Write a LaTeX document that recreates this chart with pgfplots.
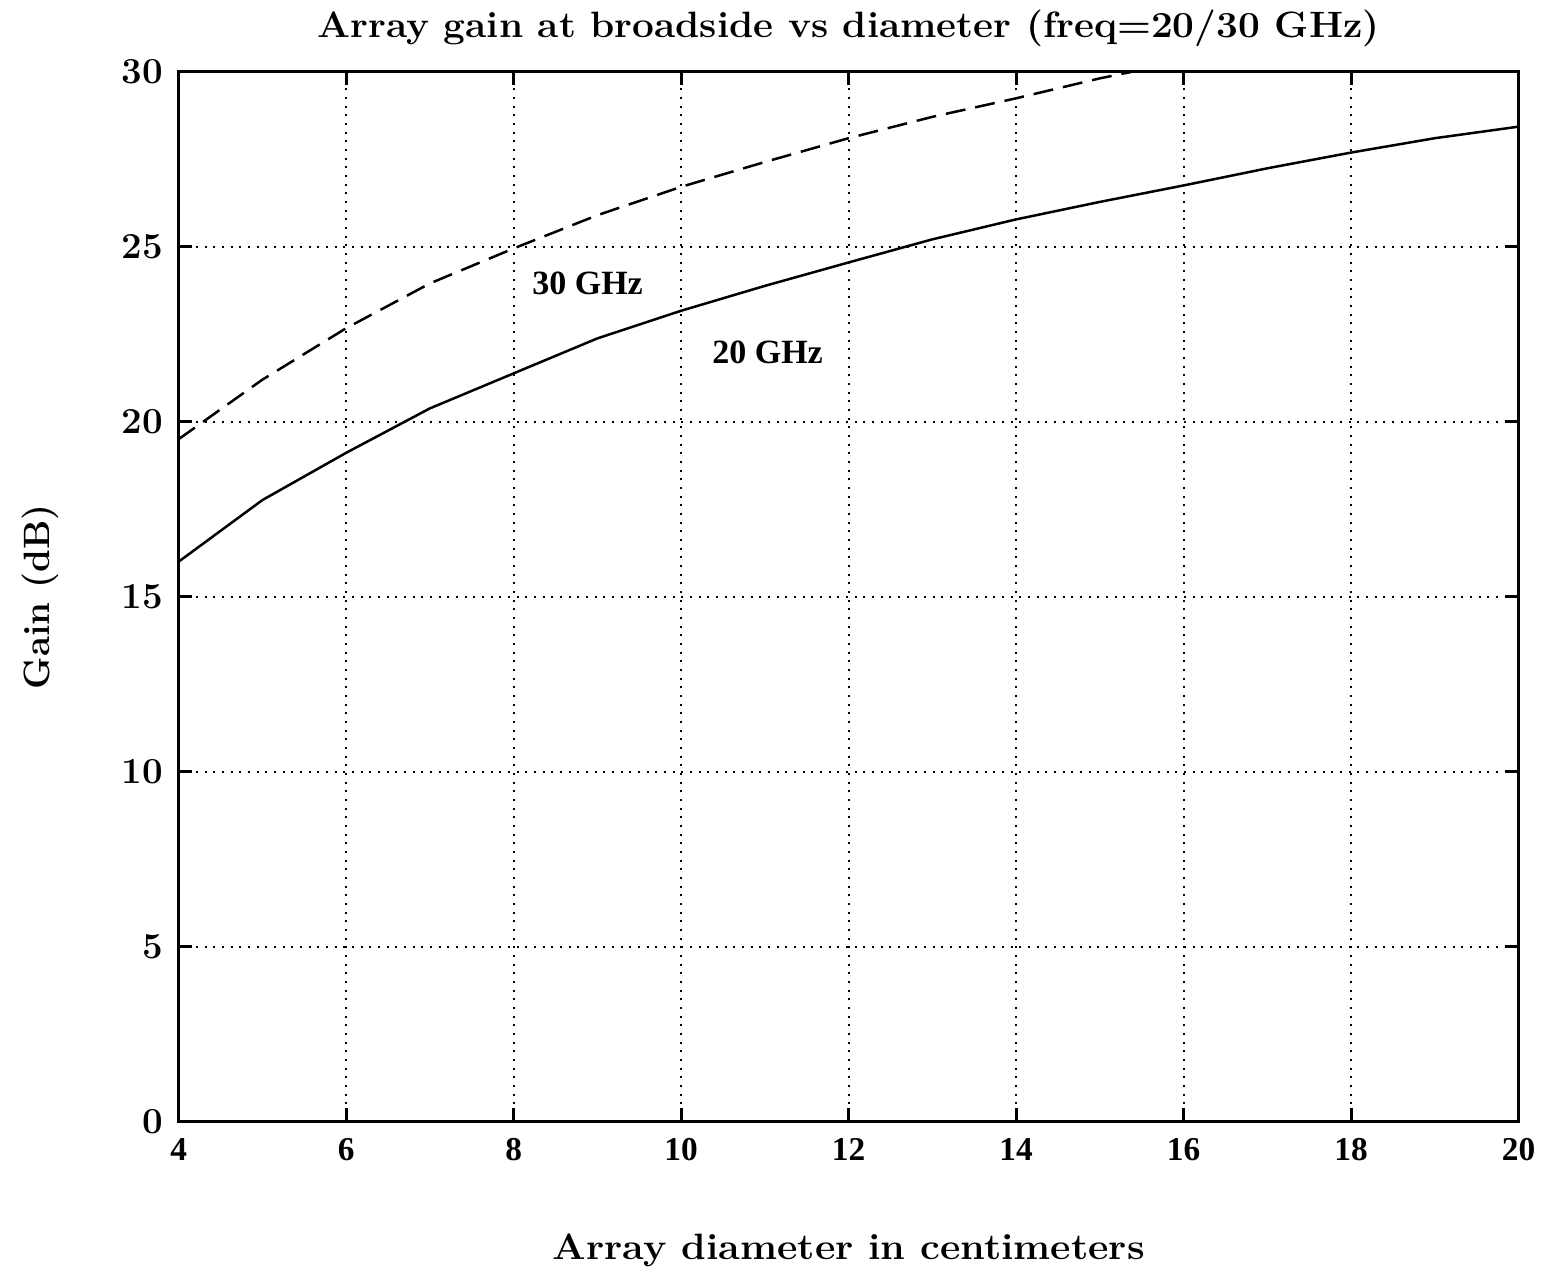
\documentclass[border=0pt]{standalone}
\usepackage{fontspec}
\usepackage{pgfplots}
\pgfplotsset{compat=1.18}
\newfontfamily\timesb{Liberation Serif}

% Array gain at broadside, read in dB
\pgfplotstableread{
d    g
4    16.00
5    17.76
6    19.11
7    20.38
8    21.38
9    22.38
10   23.17
11   23.88
12   24.55
13   25.21
14   25.78
15   26.28
16   26.75
17   27.24
18   27.69
19   28.10
20   28.43
}\gainTwenty

\pgfplotstableread{
d    g
4    19.50
5    21.20
6    22.67
7    23.95
8    24.95
9    25.90
10   26.71
11   27.42
12   28.10
13   28.71
14   29.24
15   29.81
16   30.30
}\gainThirty

\begin{document}
\begin{tikzpicture}
\path[use as bounding box] (-53.58pt,-43.59pt) rectangle ++(462.9pt,380.1pt);
\begin{axis}[
  at={(0,0)}, anchor=south west,
  scale only axis,
  width=402pt, height=315pt,
  xmin=4, xmax=20, ymin=0, ymax=30,
  xtick={4,6,...,20}, ytick={0,5,...,30},
  grid=major,
  major grid style={black, line width=0.6pt, dotted},
  axis line style={line width=0.8pt},
  every tick/.style={black, line width=0.9pt},
  major tick length=4pt,
  tick align=inside,
  xtick pos=both, ytick pos=both,
  /pgf/number format/assume math mode=true,
  xticklabel style={font=\timesb\bfseries\fontsize{10}{12}\selectfont, anchor=base, inner sep=0pt, yshift=-11.5pt},
  yticklabel style={font=\bfseries\fontsize{11}{13}\selectfont, anchor=east, inner sep=0pt, xshift=-4.4pt},
  xlabel={Array diameter in centimeters},
  xlabel style={font=\bfseries\fontsize{11}{13}\selectfont, at={(axis description cs:0.5,-0.1317)}, anchor=base, inner sep=0pt, xscale=1.08},
  ylabel={Gain (dB)},
  ylabel style={font=\bfseries\fontsize{11}{13}\selectfont, at={(axis description cs:-0.096,0.5)}, anchor=base, inner sep=0pt},
  clip mode=individual,
]
\addplot[black, line width=0.75pt] table[x=d, y=g] {\gainTwenty};
\addplot[black, line width=0.75pt, dash pattern=on 6pt off 3pt] table[x=d, y=g] {\gainThirty};
\node[anchor=base west, inner sep=0pt, font=\timesb\bfseries\fontsize{10.2}{12}\selectfont] at (axis cs:8.216,23.62) {30 GHz};
\node[anchor=base west, inner sep=0pt, font=\timesb\bfseries\fontsize{10.2}{12}\selectfont] at (axis cs:10.365,21.67) {20 GHz};
\node[anchor=base, inner sep=0pt, xscale=1.058, font=\bfseries\fontsize{11}{13}\selectfont] at (axis description cs:0.5,1.033) {Array gain at broadside vs diameter (freq=20/30 GHz)};
\end{axis}
\end{tikzpicture}
\end{document}
